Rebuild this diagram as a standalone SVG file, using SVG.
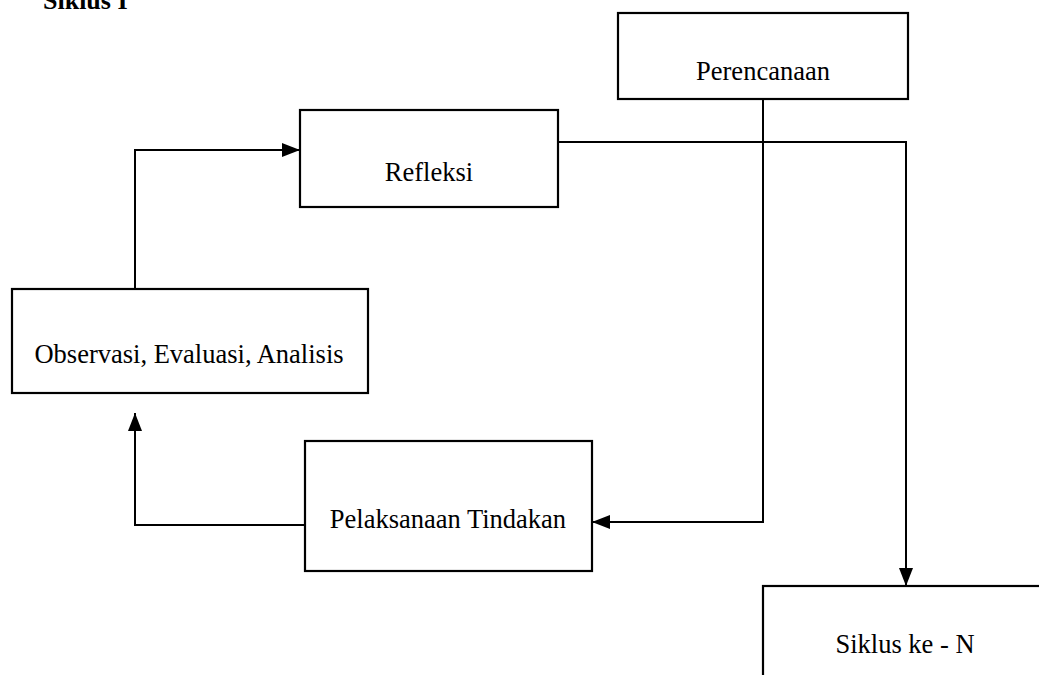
<svg xmlns="http://www.w3.org/2000/svg" width="1039" height="675" viewBox="0 0 1039 675">
<style>
.box{fill:#fff;stroke:#000;stroke-width:2.2}
.lbl{font-family:"Liberation Serif","Times New Roman",serif;font-size:26.5px;fill:#000;text-anchor:middle}
.ttl{font-family:"Liberation Serif","Times New Roman",serif;font-size:26px;font-weight:bold;fill:#000}
.con{fill:none;stroke:#000;stroke-width:2}
</style>
<defs>
<marker id="ah" markerWidth="18" markerHeight="14" refX="18" refY="7" orient="auto" markerUnits="userSpaceOnUse">
<path d="M0,0 L18,7 L0,14 Z" fill="#000"/>
</marker>
</defs>
<rect width="1039" height="675" fill="#fff"/>
<text class="ttl" x="43" y="9">Siklus I</text>
<g id="connectors">
<polyline class="con" points="763,99 763,522 592,522" marker-end="url(#ah)"/>
<polyline class="con" points="558,142 906,142 906,586" marker-end="url(#ah)"/>
<polyline class="con" points="135,289 135,150 300,150" marker-end="url(#ah)"/>
<polyline class="con" points="305,525 135,525 135,413" marker-end="url(#ah)"/>
</g>
<g id="perencanaan">
<rect class="box" x="618" y="13" width="290" height="86"/>
<text class="lbl" x="763" y="80">Perencanaan</text>
</g>
<g id="refleksi">
<rect class="box" x="300" y="110" width="258" height="97"/>
<text class="lbl" x="429" y="181">Refleksi</text>
</g>
<g id="observasi">
<rect class="box" x="12" y="289" width="356" height="104"/>
<text class="lbl" x="189" y="363">Observasi, Evaluasi, Analisis</text>
</g>
<g id="pelaksanaan">
<rect class="box" x="305" y="441" width="287" height="130"/>
<text class="lbl" x="448" y="528">Pelaksanaan Tindakan</text>
</g>
<g id="siklus-n">
<rect class="box" x="763" y="586" width="300" height="120"/>
<text class="lbl" x="905" y="653">Siklus ke - N</text>
</g>
</svg>
